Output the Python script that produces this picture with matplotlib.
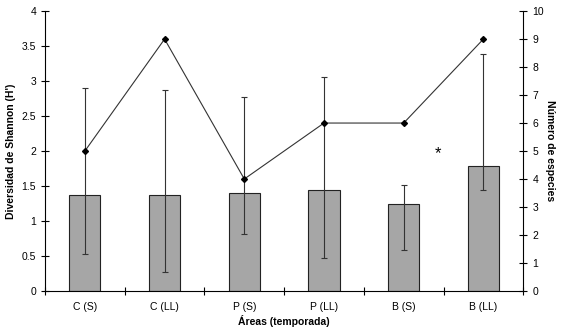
import matplotlib
matplotlib.use("Agg")
import matplotlib.pyplot as plt
import numpy as np

plt.rcParams['font.family'] = ['Liberation Sans', 'DejaVu Sans']

areas = ["C (S)", "C (LL)", "P (S)", "P (LL)", "B (S)", "B (LL)"]
shannon = [1.37, 1.37, 1.40, 1.45, 1.25, 1.79]
err_top = [2.90, 2.87, 2.77, 3.06, 1.52, 3.39]
err_bottom = [0.53, 0.27, 0.82, 0.47, 0.59, 1.44]
especies = [5, 9, 4, 6, 6, 9]

x = np.arange(len(areas))
yerr = [np.array(shannon) - np.array(err_bottom), np.array(err_top) - np.array(shannon)]

fig = plt.figure(figsize=(5.7, 3.36), dpi=100)
ax = fig.add_axes([0.079, 0.134, 0.839, 0.833])

ax.bar(x, shannon, width=0.39, color="#a6a6a6", edgecolor="#222222", linewidth=0.8, zorder=2)
ax.errorbar(x, shannon, yerr=yerr, fmt="none", ecolor="#333333", elinewidth=0.8,
            capsize=2.5, capthick=0.8, zorder=3)

ax.set_xlim(-0.5, 5.5)
ax.set_ylim(0, 4)
ax.set_yticks(np.arange(0, 4.01, 0.5))
ax.set_yticklabels(["0", "0.5", "1", "1.5", "2", "2.5", "3", "3.5", "4"])
ax.set_xticks(x)
ax.set_xticklabels(areas)
ax.set_xticks(np.arange(-0.5, 5.6, 1), minor=True)
ax.tick_params(axis="x", which="major", length=0, labelsize=7.5, pad=8)
ax.tick_params(axis="x", which="minor", direction="inout", length=6, width=0.8)
ax.tick_params(axis="y", direction="inout", length=6, width=0.8, labelsize=7.5)
for s in ["top", "right"]:
    ax.spines[s].set_visible(False)
ax.spines["left"].set_linewidth(0.8)
ax.spines["bottom"].set_linewidth(0.8)
ax.set_ylabel("Diversidad de Shannon (H')", fontsize=7.5, fontweight="bold", labelpad=4)
ax.set_xlabel("Áreas (temporada)", fontsize=7.5, fontweight="bold", labelpad=2)

ax2 = ax.twinx()
ax2.plot(x, especies, color="#333333", linewidth=0.8, marker="D", markersize=3,
         markerfacecolor="black", markeredgecolor="black", zorder=4)
ax2.set_ylim(0, 10)
ax2.set_yticks(np.arange(0, 11, 1))
ax2.tick_params(axis="y", direction="inout", length=6, width=0.8, labelsize=7.5)
for s in ["top", "left", "bottom"]:
    ax2.spines[s].set_visible(False)
ax2.spines["right"].set_linewidth(0.8)
ax2.set_ylabel("Número de especies", fontsize=7.5, fontweight="bold", rotation=270, labelpad=8)

ax.text(4.43, 1.97, "*", fontsize=12, ha="center", va="center")

fig.savefig("out.png", dpi=100)
